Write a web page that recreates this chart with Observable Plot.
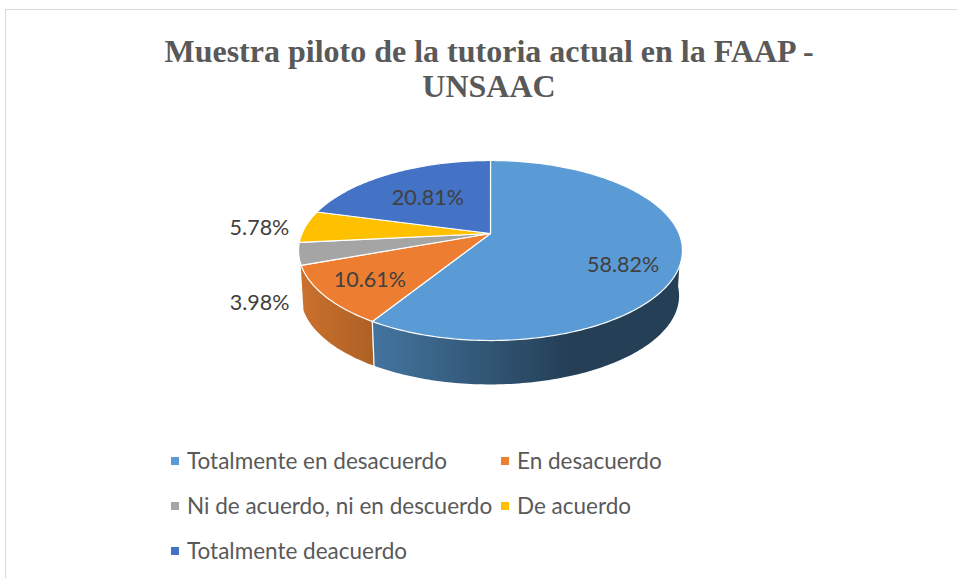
<!DOCTYPE html>
<html lang="es">
<head>
<meta charset="utf-8">
<script src="https://cdn.jsdelivr.net/npm/d3@7"></script>
<script src="https://cdn.jsdelivr.net/npm/@observablehq/plot@0.6"></script>
<style>
  html, body { margin: 0; padding: 0; background: #fff; overflow: hidden; }
  #page { position: relative; width: 957px; height: 578px; overflow: hidden; }
  #frame { position: absolute; left: 5px; top: 9px; width: 960px; height: 600px;
           border: 1px solid #d9d9d9; box-sizing: border-box; }
  #title { position: absolute; left: 0; top: 34px; width: 978px; text-align: center;
           font: bold 32px/35px "Liberation Serif", serif; color: #595959; }
  #plot { position: absolute; left: 0; top: 120px; }
  #legend { position: absolute; left: 171px; top: 438px; display: grid;
            grid-template-columns: 330px auto; grid-auto-rows: 45px;
            font: 22.5px "Lato", sans-serif; color: #595959; }
  .item { display: flex; align-items: center; white-space: nowrap; }
  .swatch { width: 8px; height: 8px; margin-right: 8px; flex: none; }
  svg text { font-family: "Lato", sans-serif; }
</style>
</head>
<body>
<div id="page">
  <div id="frame"></div>
  <div id="title">Muestra piloto de la tutoria actual en la FAAP -<br>UNSAAC</div>
  <div id="plot"></div>
  <div id="legend"></div>
</div>
<script>
// Data
const categories = ["Totalmente en desacuerdo", "En desacuerdo", "Ni de acuerdo, ni en descuerdo", "De acuerdo", "Totalmente deacuerdo"];
const values = [58.82, 10.61, 3.98, 5.78, 20.81];
const colors = ["#5B9BD5", "#ED7D31", "#A5A5A5", "#FFC000", "#4472C4"];

// Label placement: fraction of radius along each slice's mid-angle, then pixel nudge
const labelRadius = [0.7, 0.7, 1, 1, 0.7];
const labelDx = [1, -9, -39, -46, 10];
const labelDy = [14, 5, 49, 2, 8];
const labelColor = ["#404040", "#404040", "#404040", "#404040", "#404040"];

// Tilted-disc projection of the 3D pie
const cx = 490, cy = 233, R = 188.5, S = 86.8, persp = 0.189;
const depthY = 279, depthScale = 0.985;
function project(deg, r = 1) {
  const a = deg * Math.PI / 180, u = r * Math.sin(a), v = -r * Math.cos(a), w = 1 - persp * v;
  return {x: R * u / w, y: S * v / w};
}
const top3d = (deg, r) => { const p = project(deg, r); return {x: cx + p.x, y: cy + p.y}; };
const bot3d = (deg) => { const p = project(deg); return {x: cx + depthScale * p.x, y: depthY + depthScale * p.y}; };

// Slice angles from the values
const total = d3.sum(values);
let acc = 0;
const slices = categories.map((name, i) => {
  const start = acc / total * 360; acc += values[i];
  return {name, value: values[i], start, end: acc / total * 360, i};
});

function arcDegs(a, b) {
  const n = Math.max(2, Math.ceil((b - a) / 1)), out = [];
  for (let k = 0; k <= n; k++) out.push(a + (b - a) * k / n);
  return out;
}

// Top face outlines
const facePoints = slices.flatMap(s => {
  const apex = {name: s.name, x: cx, y: cy};
  return [apex, ...arcDegs(s.start, s.end).map(d => ({name: s.name, ...top3d(d)})), apex];
});

// Visible side wall: only the part of the blue and orange slices facing the viewer
const wallFrom = 95;
const wallOf = (s, a, b) => arcDegs(a, b).map(d => {
  const t = top3d(d), u = bot3d(d);
  return {name: s.name, x1: t.x, y1: t.y, x2: u.x, y2: u.y};
});
const wallBlue = wallOf(slices[0], wallFrom, slices[0].end);
const wallOrange = wallOf(slices[1], slices[1].start, slices[1].end);
const wallEdge = [top3d(slices[0].end), bot3d(slices[0].end)];

const labels = slices.map((s, i) => {
  const p = top3d((s.start + s.end) / 2, labelRadius[i]);
  return {text: s.value.toFixed(2) + "%", x: p.x + labelDx[i], y: p.y + labelDy[i], fill: labelColor[i]};
});

function gradients() {
  const defs = d3.create("svg:defs");
  const add = (id, stops) => {
    const g = defs.append("linearGradient").attr("id", id);
    stops.forEach(([o, c]) => g.append("stop").attr("offset", o).attr("stop-color", c));
  };
  add("wallBlueGrad", [[0, "#44759F"], [0.64, "#243F56"], [1, "#243F56"]]);
  add("wallOrangeGrad", [[0, "#CA712E"], [1, "#AE6024"]]);
  return defs.node();
}

const chart = Plot.plot({
  width: 957, height: 320,
  margin: 0,
  x: {domain: [0, 957], range: [0, 957], axis: null},
  y: {domain: [120, 440], range: [0, 320], axis: null},
  color: {domain: categories, range: colors},
  marks: [
    gradients,
    Plot.area(wallBlue, {x1: "x1", y1: "y1", x2: "x2", y2: "y2", fill: "url(#wallBlueGrad)"}),
    Plot.area(wallOrange, {x1: "x1", y1: "y1", x2: "x2", y2: "y2", fill: "url(#wallOrangeGrad)"}),
    Plot.line(wallEdge, {x: "x", y: "y", stroke: "white", strokeWidth: 1.2}),
    Plot.line(facePoints, {x: "x", y: "y", z: "name", fill: "name", stroke: "white", strokeWidth: 1.2, curve: "linear"}),
    Plot.text(labels, {x: "x", y: "y", text: "text", fill: "fill", fontSize: 21.5})
  ]
});
document.getElementById("plot").append(chart);

// Legend
const legend = d3.select("#legend");
categories.forEach((c, i) => {
  const item = legend.append("div").attr("class", "item");
  item.append("span").attr("class", "swatch").style("background", colors[i]);
  item.append("span").text(c);
});
</script>
</body>
</html>
